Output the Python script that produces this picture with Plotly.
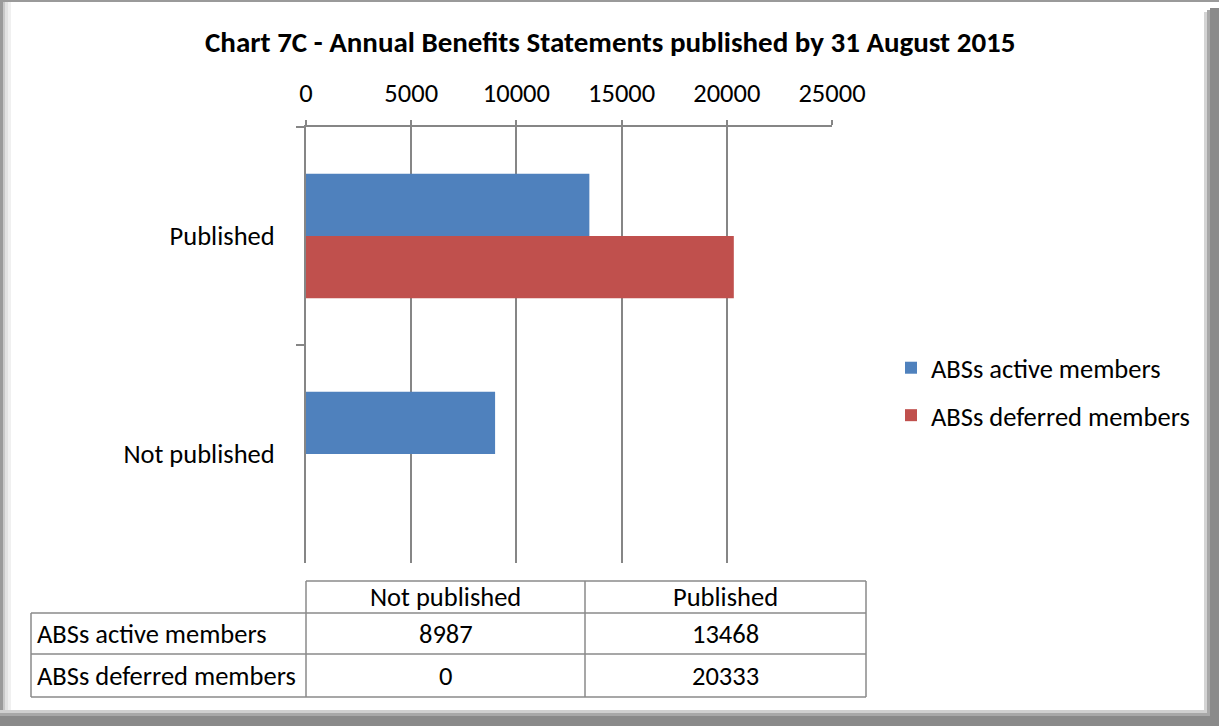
import plotly.graph_objects as go

W, H = 1219, 726

# ---- data ----
categories = ["Not published", "Published"]
series_names = ["ABSs active members", "ABSs deferred members"]
active_values = [8987, 13468]
deferred_values = [0, 20333]
x_ticks = [0, 5000, 10000, 15000, 20000, 25000]
title_text = "Chart 7C - Annual Benefits Statements published by 31 August 2015"

BLUE = "#4F81BD"
RED = "#C0504D"
GRID = "#868686"
FONT = "Carlito, Calibri, Lato, sans-serif"
FS = 26.5


def px(x):
    return x / W


def py(y):
    return 1 - y / H


fig = go.Figure()
fig.add_trace(go.Bar(
    y=categories, x=active_values, name=series_names[0], orientation="h",
    marker=dict(color=BLUE, line=dict(width=0)), legendgroup="a",
))
fig.add_trace(go.Bar(
    y=categories, x=deferred_values, name=series_names[1], orientation="h",
    marker=dict(color=RED, line=dict(width=0)), legendgroup="b",
))

shapes = []
line_style = dict(color="#8a8a8a", width=1.5)


def hline(y, x0, x1):
    shapes.append(dict(type="line", xref="paper", yref="paper",
                       x0=px(x0), x1=px(x1), y0=py(y), y1=py(y), line=line_style))


def vline(x, y0, y1):
    shapes.append(dict(type="line", xref="paper", yref="paper",
                       x0=px(x), x1=px(x), y0=py(y0), y1=py(y1), line=line_style))


def rect(x0, y0, x1, y1, color):
    shapes.append(dict(type="rect", xref="paper", yref="paper",
                       x0=px(x0), x1=px(x1), y0=py(y1), y1=py(y0),
                       fillcolor=color, line=dict(width=0), layer="above"))


# data table grid
col_x = [31, 306, 585, 866]
row_y = [581, 613, 654, 697]
hline(row_y[0], col_x[1], col_x[3])
for y in row_y[1:]:
    hline(y, col_x[0], col_x[3])
vline(col_x[0], row_y[1], row_y[3])
for x in col_x[1:]:
    vline(x, row_y[0], row_y[3])

# frame with bevel / shadow
rect(0, 0, W, 2, "#9a9a9a")
rect(0, 0, 3, H, "#9a9a9a")
rect(3, 2, 5, H - 14, "#c8c8c8")
rect(5, 2, 8, H - 14, "#e2e2e2")
rect(8, 2, 11, H - 14, "#f0f0f0")
rect(1204, 12, 1207, H, "#d4d4d4")
rect(1207, 10, 1210, H, "#a8a8a8")
rect(1210, 8, W, H, "#8a8a8a")
rect(0, 710, 1207, 713, "#d0d0d0")
rect(0, 713, 1210, 716, "#a8a8a8")
rect(0, 716, W, H, "#8a8a8a")

annotations = []
# title
annotations.append(dict(text="<b>" + title_text + "</b>", x=px(610), y=py(42),
                        xref="paper", yref="paper", showarrow=False,
                        xanchor="center", yanchor="middle",
                        font=dict(size=29, color="black", family=FONT)))
# table header
for i, c in enumerate(categories):
    annotations.append(dict(text=c, x=px((col_x[i + 1] + col_x[i + 2]) / 2),
                            y=py((row_y[0] + row_y[1]) / 2), xref="paper", yref="paper",
                            xanchor="center", yanchor="middle",
                            showarrow=False, font=dict(size=FS, color="black", family=FONT)))
# table rows
for r, (name, vals) in enumerate(zip(series_names, [active_values, deferred_values])):
    yc = py((row_y[r + 1] + row_y[r + 2]) / 2)
    annotations.append(dict(text=name, x=px(col_x[0] + 4), y=yc, xanchor="left",
                            yanchor="middle",
                            xref="paper", yref="paper", showarrow=False,
                            font=dict(size=FS, color="black", family=FONT)))
    for i, v in enumerate(vals):
        annotations.append(dict(text=str(v), x=px((col_x[i + 1] + col_x[i + 2]) / 2), y=yc,
                                xanchor="center", yanchor="middle",
                                xref="paper", yref="paper", showarrow=False,
                                font=dict(size=FS, color="black", family=FONT)))

fig.update_layout(
    template=None,
    width=W, height=H,
    margin=dict(l=0, r=0, t=0, b=0),
    paper_bgcolor="white", plot_bgcolor="white",
    barmode="group", bargap=0.43, bargroupgap=0,
    font=dict(family=FONT, size=FS, color="black"),
    showlegend=True,
    legend=dict(x=px(891), y=py(344), xanchor="left", yanchor="top",
                traceorder="grouped", tracegroupgap=10,
                font=dict(size=FS, family=FONT, color="black"),
                bgcolor="rgba(0,0,0,0)"),
    shapes=shapes,
    annotations=annotations,
    xaxis=dict(
        domain=[px(306), px(832)], range=[0, 25000], side="top",
        tickvals=x_ticks, ticktext=[str(t) for t in x_ticks],
        showgrid=True, gridcolor=GRID, gridwidth=2,
        showline=True, linecolor=GRID, linewidth=2,
        ticks="outside", ticklen=5, tickcolor=GRID, tickwidth=2,
        ticklabelstandoff=7, zeroline=False, automargin=False,
        tickfont=dict(size=FS, family=FONT, color="black"),
        fixedrange=True,
    ),
    yaxis=dict(
        domain=[py(563), py(127)], type="category",
        categoryorder="array", categoryarray=["Published", "Not published"],
        autorange="reversed",
        showgrid=False, showline=True, linecolor=GRID, linewidth=2,
        ticks="outside", tickson="boundaries", ticklen=8, tickcolor=GRID, tickwidth=2,
        ticklabelstandoff=24, automargin=False,
        tickfont=dict(size=FS, family=FONT, color="black"),
        fixedrange=True,
    ),
)

fig.write_html("out.html")
